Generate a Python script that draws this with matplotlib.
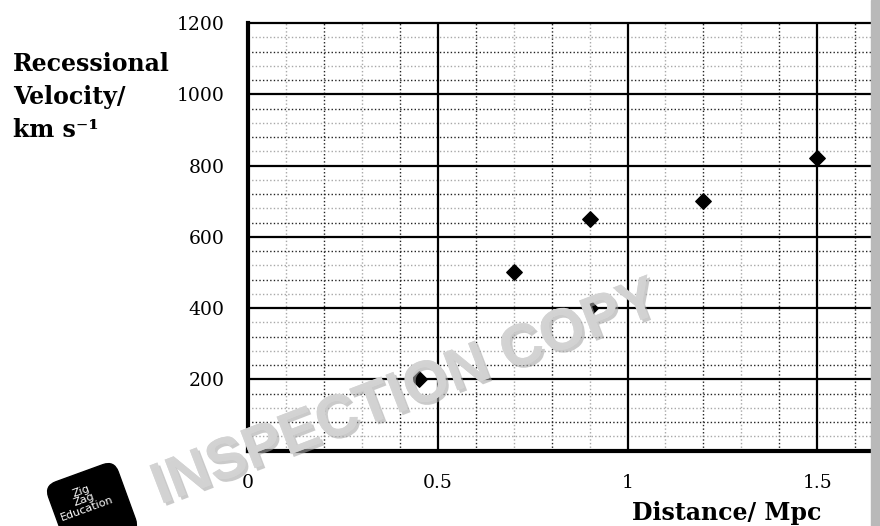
import matplotlib
matplotlib.use("Agg")
import matplotlib.pyplot as plt
import numpy as np
from matplotlib.patches import FancyBboxPatch, Rectangle
import matplotlib.patheffects as pe
from matplotlib.transforms import Affine2D

# ---- data ----
distance = [0.45, 0.7, 0.9, 0.9, 1.2, 1.5]
velocity = [200, 500, 650, 400, 700, 820]
x_major = [0, 0.5, 1, 1.5]
x_labels = ["0", "0.5", "1", "1.5"]
y_major = [200, 400, 600, 800, 1000, 1200]
y_labels = ["200", "400", "600", "800", "1000", "1200"]

W, H = 880, 526
fig = plt.figure(figsize=(W / 100, H / 100), dpi=100)
fig.patch.set_facecolor("white")

L, R, B, T = 248, 871, 450.7, 23
ax = fig.add_axes([L / W, 1 - B / H, (R - L) / W, (B - T) / H])
ax.set_xlim(0, (R - L) / 379.5)
ax.set_ylim(0, 1200)

serif = ["DejaVu Serif"]

# minor grid
xmin_ticks = np.round(np.arange(0.1, 1.65, 0.1), 2)
for xv in xmin_ticks:
    if abs(xv * 2 - round(xv * 2)) < 1e-6:
        continue
    k = int(round(xv * 10))
    col = "#222222" if k % 2 == 0 else "#a8a8a8"
    ax.axvline(xv, color=col, lw=1.0, ls=(0, (1, 1.6)), zorder=1)
for yv in range(40, 1200, 40):
    if yv % 200 == 0:
        continue
    k = yv // 40
    col = "#222222" if k % 2 == 0 else "#a8a8a8"
    ax.axhline(yv, color=col, lw=1.0, ls=(0, (1, 1.6)), zorder=1)

# major grid
for xv in x_major[1:]:
    ax.axvline(xv, color="black", lw=1.6, zorder=2)
for yv in y_major:
    ax.axhline(yv, color="black", lw=1.6, zorder=2, clip_on=False)

ax.scatter(distance, velocity, marker="D", s=62, color="black", zorder=5)

for s in ["top", "right"]:
    ax.spines[s].set_visible(False)
ax.spines["left"].set_linewidth(3)
ax.spines["bottom"].set_linewidth(3)
ax.spines["left"].set_zorder(6)
ax.spines["bottom"].set_zorder(6)

ax.set_xticks(x_major)
ax.set_xticklabels(x_labels, family=serif, fontsize=13.5)
ax.set_yticks(y_major)
ax.set_yticklabels(y_labels, family=serif, fontsize=13.5)
ax.tick_params(axis="both", length=0)
ax.tick_params(axis="x", pad=17)
ax.tick_params(axis="y", pad=17)

# axis titles
fs_t = 17
fig.text(13 / W, 1 - 70.5 / H, "Recessional", family=serif, fontweight="bold",
         fontsize=fs_t, ha="left", va="baseline")
fig.text(13 / W, 1 - 104 / H, "Velocity/", family=serif, fontweight="bold",
         fontsize=fs_t, ha="left", va="baseline")
fig.text(13 / W, 1 - 137 / H, "km s\u207b\u00b9", family=serif, fontweight="bold",
         fontsize=fs_t, ha="left", va="baseline")
fig.text(727 / W, 1 - 520 / H, "Distance/ Mpc", family=serif, fontweight="bold",
         fontsize=fs_t, ha="center", va="baseline")

# right grey strip
fig.patches.append(Rectangle((R / W, 0), (W - R) / W, 1, transform=fig.transFigure,
                             color="#b9b9b9", zorder=10))

# watermark
fig.text(406 / W, 1 - 394 / H, "INSPECTION COPY", fontsize=42, fontweight="bold",
         family="Liberation Sans", color="#d3d3d3", rotation=21, ha="center", va="center",
         rotation_mode="anchor", alpha=0.95, zorder=20,
         path_effects=[pe.withSimplePatchShadow(offset=(2, -2), shadow_rgbFace="#a8a8a8", alpha=0.6),
                       pe.Normal()])

# logo
cx, cy = 92, 508
size = 74
logo = FancyBboxPatch((cx - size / 2, H - cy - size / 2), size, size,
                      boxstyle="round,pad=0,rounding_size=12",
                      transform=Affine2D().rotate_deg_around(cx, H - cy, 20),
                      facecolor="black", edgecolor="black", zorder=15)
fig.patches.append(logo)
fig.text((cx - 8) / W, 1 - (cy - 8) / H, "Zig\nZag\nEducation", color="white", fontsize=8,
         rotation=20, ha="center", va="center", zorder=16, linespacing=0.9)

fig.savefig("out.png", dpi=100)
